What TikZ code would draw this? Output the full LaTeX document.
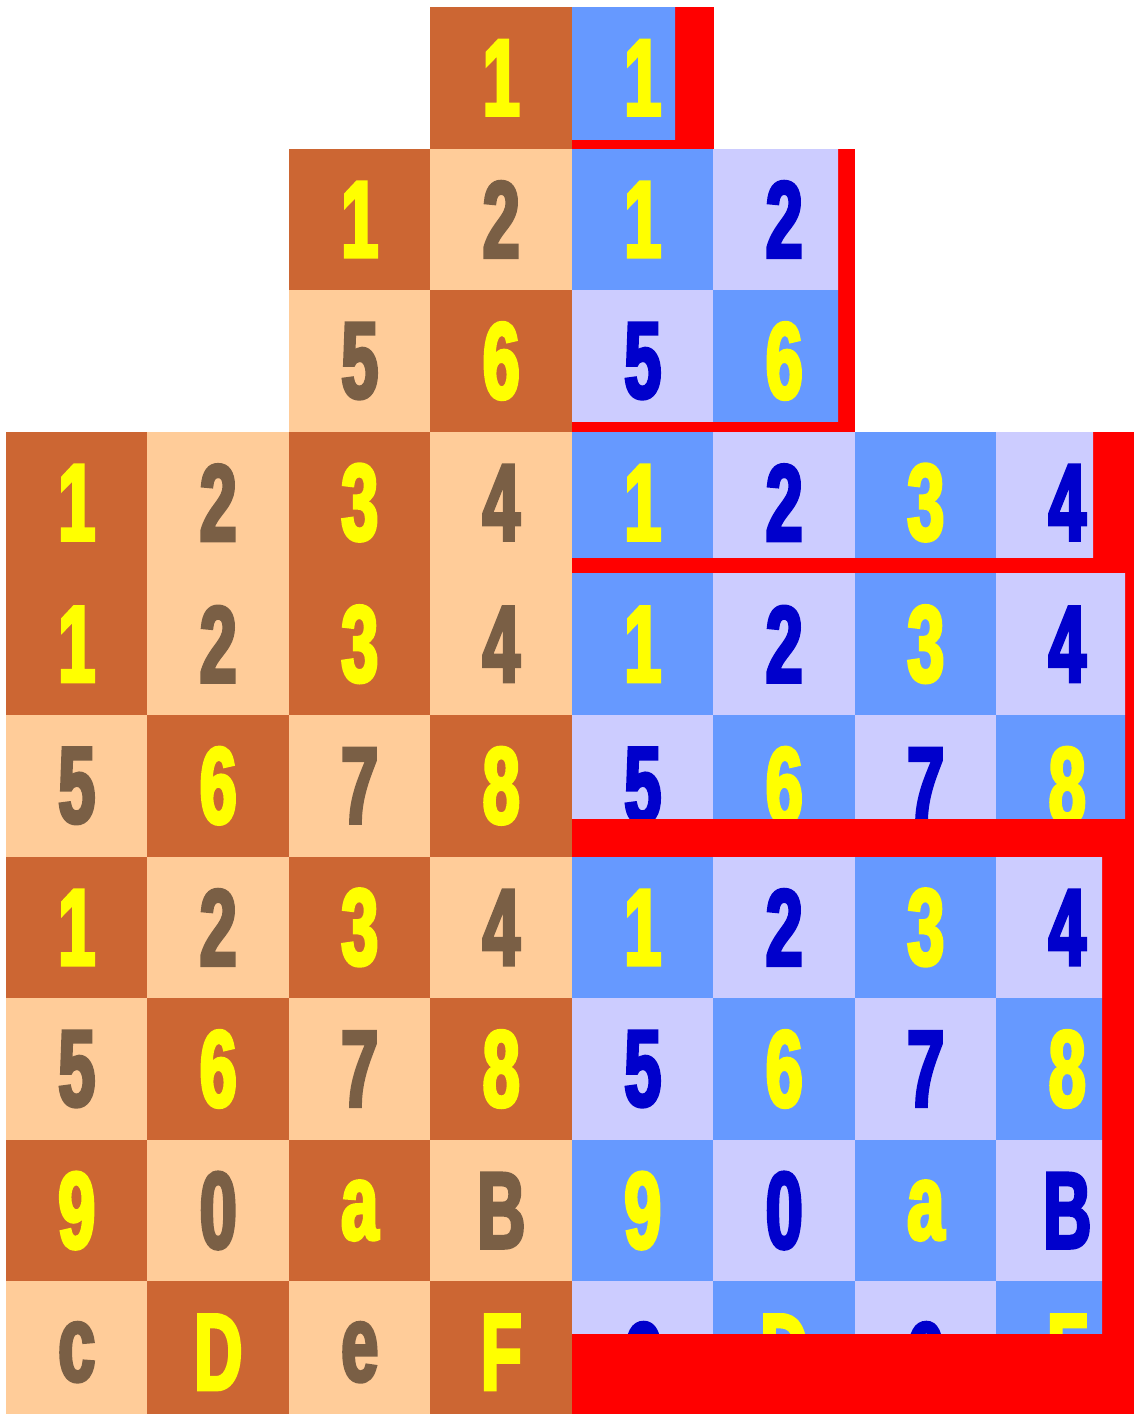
\documentclass[tikz,border=0pt]{standalone}
\usepackage{fontspec}
\newfontfamily\cellfont[FakeStretch=0.61,FakeBold=3]{Liberation Sans Bold}
\definecolor{cbrown}{HTML}{CC6633}
\definecolor{cpeach}{HTML}{FFCC99}
\definecolor{cblue}{HTML}{6699FF}
\definecolor{clav}{HTML}{CCCCFF}
\definecolor{tgrey}{HTML}{7A5F45}
\definecolor{tblue}{HTML}{0000CC}
\definecolor{tyel}{HTML}{FFFF00}
\definecolor{cred}{HTML}{FF0000}
\tikzset{
  cell/.style={minimum width=1.415cm, minimum height=1.416cm, inner sep=0pt, outer sep=0pt,
    font=\cellfont\fontsize{31}{33}\selectfont},
  redframe/.style={fill=cred}
}
% #1 prefix, #2 x0 (px), #3 first row, #4 columns, #5 fill even, #6 fill odd, #7 text odd, #8 labels
\newcommand\cellgroup[8]{%
  \foreach \t [count=\i from 0] in {#8} {%
    \pgfmathtruncatemacro\rr{div(\i,#4)}%
    \pgfmathtruncatemacro\cc{mod(\i,#4)}%
    \pgfmathtruncatemacro\pp{mod(\rr+\cc,2)}%
    \ifnum\pp=0 \def\fc{#5}\def\tc{tyel}\else\def\fc{#6}\def\tc{#7}\fi
    \node[cell, fill=\fc, text=\tc] (#1-\rr-\cc) at ({#2+(\cc+0.5)*141.5},{7+(#3+\rr+0.5)*141.6}) {\t};
  }%
}
\begin{document}
\begin{tikzpicture}[x=0.01cm, y=-0.01cm]
\path[use as bounding box, fill=white] (0,0) rectangle (1134,1414);
\clip (0,0) rectangle (1134,1414);
% left block
\cellgroup{La}{430.5}{0}{1}{cbrown}{cpeach}{tgrey}{1}
\cellgroup{Lb}{289}{1}{2}{cbrown}{cpeach}{tgrey}{1,2,5,6}
\cellgroup{Lc}{6}{3}{4}{cbrown}{cpeach}{tgrey}{1,2,3,4}
\cellgroup{Ld}{6}{4}{4}{cbrown}{cpeach}{tgrey}{1,2,3,4,5,6,7,8}
\cellgroup{Le}{6}{6}{4}{cbrown}{cpeach}{tgrey}{1,2,3,4,5,6,7,8,9,0,a,B,c,D,e,F}
% right block: red frames with clipped contents
\fill[redframe] (572,7) rectangle (713.5,148.6);
\begin{scope}
  \clip (572,7) rectangle (675,139);
  \cellgroup{Ra}{572}{0}{1}{cblue}{clav}{tblue}{1}
\end{scope}
\fill[redframe] (572,148.6) rectangle (855,431.8);
\begin{scope}
  \clip (572,148.6) rectangle (838,421);
  \cellgroup{Rb}{572}{1}{2}{cblue}{clav}{tblue}{1,2,5,6}
\end{scope}
\fill[redframe] (572,431.8) rectangle (1134,573.4);
\begin{scope}
  \clip (572,431.8) rectangle (1093,557);
  \cellgroup{Rc}{572}{3}{4}{cblue}{clav}{tblue}{1,2,3,4}
\end{scope}
\fill[redframe] (572,573.4) rectangle (1134,856.6);
\begin{scope}
  \clip (572,573.4) rectangle (1125,818);
  \cellgroup{Rd}{572}{4}{4}{cblue}{clav}{tblue}{1,2,3,4,5,6,7,8}
\end{scope}
\fill[redframe] (572,856.6) rectangle (1134,1414);
\begin{scope}
  \clip (572,856.6) rectangle (1102,1333);
  \cellgroup{Re}{572}{6}{4}{cblue}{clav}{tblue}{1,2,3,4,5,6,7,8,9,0,a,B,c,D,e,F}
\end{scope}
\end{tikzpicture}
\end{document}
